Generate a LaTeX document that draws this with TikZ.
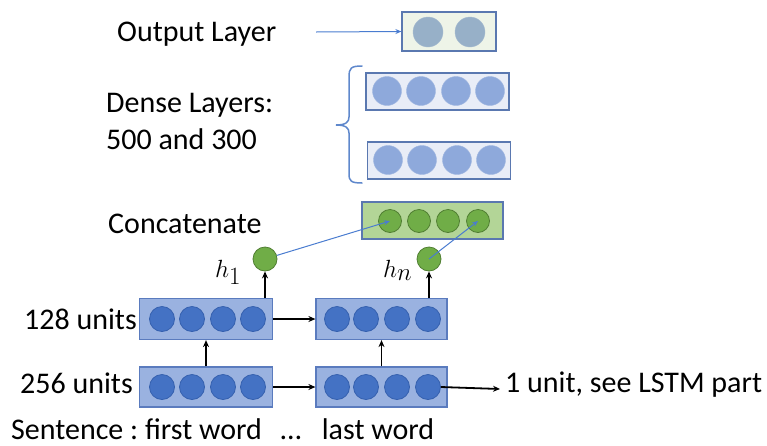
\documentclass[tikz,border=0pt]{standalone}
\usepackage{fontspec}
\setmainfont{Carlito}
\usetikzlibrary{arrows.meta,calc}
\definecolor{outfill}{HTML}{EEF4E8}
\definecolor{outcirc}{HTML}{97B0C8}
\definecolor{boxline}{HTML}{5A78B0}
\definecolor{densefill}{HTML}{E9EDF7}
\definecolor{densecirc}{HTML}{8EA9DB}
\definecolor{catfill}{HTML}{B3D597}
\definecolor{greencirc}{HTML}{70AD47}
\definecolor{greenline}{HTML}{507E32}
\definecolor{lstmfill}{HTML}{9AB2E0}
\definecolor{lstmline}{HTML}{5A7BBE}
\definecolor{lstmcirc}{HTML}{4472C4}
\definecolor{lstmcircline}{HTML}{3560AE}
\definecolor{bluelink}{HTML}{4A7CD0}
\definecolor{bracecol}{HTML}{5F88CC}
\frenchspacing
\tikzset{
  txt/.style={font=\fontsize{30}{36}\selectfont, inner sep=0pt},
  mathlbl/.style={font=\fontsize{35}{40}\selectfont, inner sep=0pt},
  outbox/.style={draw=boxline, fill=outfill, line width=1.2pt, minimum width=94pt, minimum height=39pt, inner sep=0pt},
  densebox/.style={draw=boxline, fill=densefill, line width=1.2pt, minimum width=143pt, minimum height=37pt, inner sep=0pt},
  catbox/.style={draw=boxline, fill=catfill, line width=1.2pt, minimum width=141pt, minimum height=37pt, inner sep=0pt},
  lstmbox/.style={draw=lstmline, fill=lstmfill, line width=1.2pt, minimum width=133pt, minimum height=41pt, inner sep=0pt},
  outunit/.style={circle, fill=outcirc, draw=outcirc!85!white, minimum size=30pt, inner sep=0pt},
  denseunit/.style={circle, fill=densecirc, draw=densecirc!85!white, minimum size=29pt, inner sep=0pt},
  catunit/.style={circle, fill=greencirc, draw=greenline, line width=0.8pt, minimum size=23pt, inner sep=0pt},
  hunit/.style={circle, fill=greencirc, draw=greenline, line width=0.8pt, minimum size=24pt, inner sep=0pt},
  lstmunit/.style={circle, fill=lstmcirc, draw=lstmcircline, line width=0.8pt, minimum size=25pt, inner sep=0pt},
  blk/.style={line width=1.8pt, -{Stealth[length=7pt,width=6pt]}},
  bluelink/.style={draw=bluelink, line width=1pt, -{Stealth[length=6pt,width=5pt]}},
}
\begin{document}
\begin{tikzpicture}[x=1pt,y=-1pt]
\useasboundingbox (0,0) rectangle (767,445);
% texts
\node[txt, anchor=base west] (tout) at (117,41) {Output Layer};
\node[txt, anchor=base west] (tdense) at (106,112) {Dense Layers:};
\node[txt, anchor=base west] (tdense2) at (106,149) {500 and 300};
\node[txt, anchor=base west] (tcat) at (108,233) {Concatenate};
\node[txt, anchor=base east] (t128) at (137,329) {128 units};
\node[txt, anchor=base east] (t256) at (133,393) {256 units};
\node[txt, text depth=0pt, anchor=base west] (tsent) at (11,439) {Sentence : first word};
\node[txt, text depth=0pt, anchor=base] (tdots) at (291,439) {…};
\node[txt, text depth=0pt, anchor=base] (tlast) at (378,439) {last word};
\node[txt, anchor=base west] (tunit) at (505,392) {1 unit, see LSTM part};
% output layer
\node[outbox] (ob) at (449,31.5) {};
\node[outunit] (o1) at (428,32) {};
\node[outunit] (o2) at (470,32) {};
\coordinate (oa) at (316,32);
\draw[bluelink] (oa) -- (ob.west);
% brace
\draw[bracecol, line width=1.5pt, line cap=round]
  (362,66) .. controls (351,66) and (349,68) .. (349,77) -- (349,117)
  .. controls (349,122) and (346,125) .. (336,125)
  .. controls (346,125) and (349,128) .. (349,133) -- (349,174)
  .. controls (349,181) and (351,183) .. (362,183);
% dense layers
\node[densebox] (d1) at (437.5,91.5) {};
\node[denseunit] (d1a) at (387,91) {};
\node[denseunit] (d1b) at (421,91) {};
\node[denseunit] (d1c) at (456,91) {};
\node[denseunit] (d1d) at (490,91) {};
\node[densebox] (d2) at (439,160.5) {};
\node[denseunit] (d2a) at (388,160) {};
\node[denseunit] (d2b) at (422,160) {};
\node[denseunit] (d2c) at (457,160) {};
\node[denseunit] (d2d) at (491,160) {};
% concatenate
\node[catbox] (cb) at (432.5,220.5) {};
\node[catunit] (c1) at (390,221) {};
\node[catunit] (c2) at (419,221) {};
\node[catunit] (c3) at (448,221) {};
\node[catunit] (c4) at (478,221) {};
% h nodes
\node[hunit] (h1) at (265,259) {};
\node[hunit] (hn) at (429,259) {};
\node[mathlbl, anchor=base west] (lh1) at (215,277) {$h_1$};
\node[mathlbl, anchor=base west] (lhn) at (383,277) {$h_n$};
% LSTM 128
\node[lstmbox] (a1) at (206,319) {};
\node[lstmunit] (a1a) at (162,319) {};
\node[lstmunit] (a1b) at (192,319) {};
\node[lstmunit] (a1c) at (223,319) {};
\node[lstmunit] (a1d) at (253,319) {};
\node[lstmbox, minimum width=131pt] (a2) at (381.5,319) {};
\node[lstmunit] (a2a) at (337,319) {};
\node[lstmunit] (a2b) at (366,319) {};
\node[lstmunit] (a2c) at (397,319) {};
\node[lstmunit] (a2d) at (428,319) {};
% LSTM 256
\node[lstmbox, minimum height=40pt] (b1) at (206,387) {};
\node[lstmunit] (b1a) at (162,387) {};
\node[lstmunit] (b1b) at (192,387) {};
\node[lstmunit] (b1c) at (223,387) {};
\node[lstmunit] (b1d) at (253,387) {};
\node[lstmbox, minimum width=131pt, minimum height=40pt] (b2) at (381.5,387) {};
\node[lstmunit] (b2a) at (337,387) {};
\node[lstmunit] (b2b) at (366,387) {};
\node[lstmunit] (b2c) at (397,387) {};
\node[lstmunit] (b2d) at (428,387) {};
% black arrows
\draw[blk] (a1) -- (a2);
\draw[blk] (b1) -- (b2);
\draw[blk] (b1.north) -- (a1.south);
\draw[blk] (b2.north) -- (a2.south);
\draw[blk] (a1.north -| h1) -- (h1);
\draw[blk] (a2.north -| hn) -- (hn);
\coordinate (uend) at (500,389);
\draw[blk] (b2d.east) -- (uend);
% blue links
\draw[bluelink] (h1) -- (c1.center);
\draw[bluelink] (hn.center) -- (c4.center);
\end{tikzpicture}
\end{document}
